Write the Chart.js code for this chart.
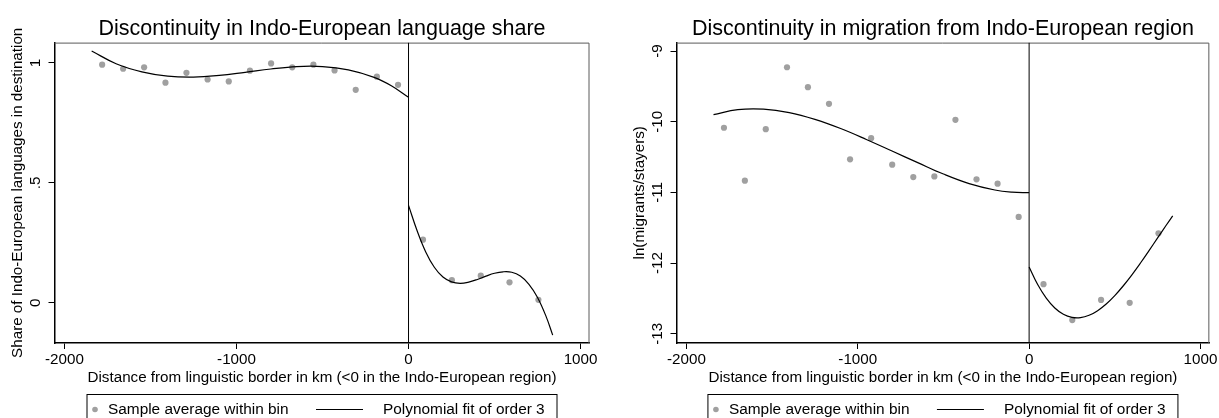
<!DOCTYPE html>
<html>
<head>
<meta charset="utf-8">
<script src="https://cdn.jsdelivr.net/npm/chart.js@4.4.0/dist/chart.umd.min.js"></script>
<style>
  html, body { margin: 0; padding: 0; background: #fff; overflow: hidden; }
  #wrap { position: relative; width: 1219px; height: 418px; }
  .panel { position: absolute; top: 0; height: 418px; }
  #leftPanel { left: 0; width: 622px; }
  #rightPanel { left: 622px; width: 597px; }
</style>
</head>
<body>
<div id="wrap">
  <div class="panel" id="leftPanel"><canvas id="shareChart"></canvas></div>
  <div class="panel" id="rightPanel"><canvas id="migChart"></canvas></div>
</div>
<script>
// bin centres (km from the border) and bin averages
const binsWest = [-1781, -1659, -1537, -1413, -1291, -1168, -1045, -922, -799, -676, -553, -430, -307, -184, -61];
const binsEast = [84, 252, 420, 587, 755];
const shareWest = [0.993, 0.976, 0.982, 0.918, 0.959, 0.931, 0.923, 0.968, 0.998, 0.982, 0.993, 0.969, 0.888, 0.943, 0.909];
const shareEast = [0.263, 0.094, 0.113, 0.085, 0.012];
const migWest = [-10.085, -10.833, -10.105, -9.229, -9.511, -9.746, -10.532, -10.232, -10.607, -10.782, -10.773, -9.972, -10.815, -10.876, -11.347];
const migEast = [-12.298, -12.806, -12.52, -12.562, -11.578];

// fitted curves
const fitGridWest = [-1842, -1700, -1550, -1400, -1250, -1100, -950, -800, -650, -500, -350, -200, -100, 0];
const fitGridEast = [0, 50, 100, 150, 200, 250, 300, 350, 400, 450, 500, 550, 600, 650, 700, 750, 800, 838];
const shareFitWest = [1.05, 0.997, 0.963, 0.945, 0.941, 0.948, 0.961, 0.975, 0.985, 0.985, 0.971, 0.94, 0.905, 0.857];
const shareFitEast = [0.406, 0.30, 0.212, 0.148, 0.107, 0.087, 0.081, 0.086, 0.097, 0.111, 0.123, 0.129, 0.127, 0.111, 0.077, 0.022, -0.058, -0.135];
const migFitWest = [-9.899, -9.828, -9.821, -9.87, -9.966, -10.096, -10.25, -10.414, -10.578, -10.74, -10.875, -10.965, -10.995, -11.003];
const migFitEast = [-12.054, -12.303, -12.495, -12.634, -12.723, -12.767, -12.771, -12.738, -12.672, -12.578, -12.459, -12.32, -12.165, -11.998, -11.823, -11.643, -11.464, -11.331];

// axes
const xTicks = [-2000, -1000, 0, 1000];
const xRange = [-2058, 1052];
const shareTicks = [0, 0.5, 1];
const shareTickLabels = ['0', '.5', '1'];
const shareRange = [-0.168, 1.085];
const migTicks = [-13, -12, -11, -10, -9];
const migTickLabels = ['-13', '-12', '-11', '-10', '-9'];
const migRange = [-13.13, -8.88];
const borderX = [0, 0];

const legendLabels = ['Sample average within bin', 'Polynomial fit of order 3'];
const xTitle = 'Distance from linguistic border in km (<0 in the Indo-European region)';

const FONT = "'Liberation Sans', Arial, sans-serif";
const dotGray = '#a0a0a0';
Chart.defaults.font.family = FONT;
Chart.defaults.color = '#000';

function pairs(xs, ys) {
    return xs.map((x, i) => ({ x: x, y: ys[i] }));
}

// top and right edges of the plot region (thin grey)
const frameEdges = {
    id: 'frameEdges',
    beforeDatasetsDraw(chart) {
        const { ctx, chartArea: a } = chart;
        ctx.save();
        ctx.strokeStyle = '#5a5a5a';
        ctx.lineWidth = 1;
        ctx.beginPath();
        ctx.moveTo(a.left, a.top + 0.5);
        ctx.lineTo(a.right - 0.5, a.top + 0.5);
        ctx.lineTo(a.right - 0.5, a.bottom);
        ctx.stroke();
        ctx.restore();
    }
};

// Stata style boxed legend under the axis title
const boxLegend = {
    id: 'boxLegend',
    afterDraw(chart) {
        const { ctx, chartArea: a } = chart;
        const mid = (a.left + a.right) / 2;
        const left = mid - 235, top = 394.5, cy = 409.5;
        const dots = chart.data.datasets.find(d => d.id === 'dots');
        const fit = chart.data.datasets.find(d => d.id === 'fitWest');
        ctx.save();
        ctx.strokeStyle = '#000';
        ctx.lineWidth = 1;
        ctx.strokeRect(left, top, 470, 30);
        ctx.fillStyle = dots.backgroundColor;
        ctx.beginPath();
        ctx.arc(left + 8, cy, 2.8, 0, Math.PI * 2);
        ctx.fill();
        ctx.fillStyle = '#000';
        ctx.font = '15.4px ' + FONT;
        ctx.textAlign = 'left';
        ctx.textBaseline = 'middle';
        ctx.fillText(dots.label, left + 21, cy);
        ctx.beginPath();
        ctx.lineWidth = fit.borderWidth;
        ctx.moveTo(left + 229, cy);
        ctx.lineTo(left + 276, cy);
        ctx.stroke();
        ctx.fillText(fit.label, left + 296, cy);
        ctx.restore();
    }
};

function makeChart(canvasId, o) {
    const lineStyle = { showLine: true, borderColor: '#000', borderWidth: 1.2, pointRadius: 0, tension: 0.4, order: 0 };
    return new Chart(document.getElementById(canvasId), {
        type: 'scatter',
        data: {
            datasets: [
                Object.assign({ id: 'fitWest', label: legendLabels[1], data: pairs(fitGridWest, o.fitWest) }, lineStyle),
                Object.assign({ id: 'fitEast', label: legendLabels[1], data: pairs(fitGridEast, o.fitEast) }, lineStyle),
                { id: 'border', label: 'border', data: pairs(borderX, o.range), showLine: true,
                  borderColor: '#000', borderWidth: 1, pointRadius: 0, order: 0 },
                { id: 'dots', label: legendLabels[0],
                  data: pairs(binsWest, o.west).concat(pairs(binsEast, o.east)),
                  pointRadius: 3.1, backgroundColor: dotGray, borderWidth: 0, order: 1 }
            ]
        },
        options: {
            responsive: true,
            maintainAspectRatio: false,
            animation: false,
            events: [],
            layout: { padding: { left: 0, right: o.padRight, top: 0, bottom: 30 } },
            plugins: {
                legend: { display: false },
                tooltip: { enabled: false },
                title: {
                    display: true, text: o.title, fullSize: false, color: '#000',
                    font: { size: 21.5, weight: 'normal', family: FONT },
                    padding: { top: 16, bottom: 0.8 }
                }
            },
            scales: {
                x: {
                    type: 'linear', min: xRange[0], max: xRange[1],
                    afterBuildTicks: s => { s.ticks = xTicks.map(v => ({ value: v })); },
                    afterFit: s => { s.height = 45; },
                    grid: { drawOnChartArea: false, drawTicks: true, tickLength: 6, color: '#000', lineWidth: 1 },
                    border: { display: true, color: '#000', width: 1.5 },
                    ticks: { color: '#000', font: { size: 15.2 }, padding: 1.5, maxRotation: 0, autoSkip: false,
                             callback: v => String(v) },
                    title: { display: true, text: xTitle, color: '#000', font: { size: 15.2 }, padding: { top: 0, bottom: 1.5 } }
                },
                y: {
                    type: 'linear', min: o.range[0], max: o.range[1],
                    afterBuildTicks: s => { s.ticks = o.ticks.map(v => ({ value: v })); },
                    afterFit: s => { s.width = 54.5; },
                    grid: { drawOnChartArea: false, drawTicks: true, tickLength: 6, color: '#000', lineWidth: 1 },
                    border: { display: true, color: '#000', width: 1.5 },
                    ticks: {
                        color: '#000', font: { size: 15.2 }, padding: o.tickPad,
                        minRotation: 90, maxRotation: 90, crossAlign: 'center', autoSkip: false,
                        callback: (v, i) => o.labels[i]
                    },
                    title: { display: true, text: o.yTitle, color: '#000', font: { size: 15.2 }, padding: { top: 8.5, bottom: 0 } }
                }
            }
        },
        plugins: [frameEdges, boxLegend]
    });
}

makeChart('shareChart', {
    title: 'Discontinuity in Indo-European language share',
    yTitle: 'Share of Indo-European languages in destination',
    west: shareWest, east: shareEast,
    fitWest: shareFitWest, fitEast: shareFitEast,
    range: shareRange, ticks: shareTicks, labels: shareTickLabels,
    tickPad: 6.7, padRight: 32.5
});

makeChart('migChart', {
    title: 'Discontinuity in migration from Indo-European region',
    yTitle: 'ln(migrants/stayers)',
    west: migWest, east: migEast,
    fitWest: migFitWest, fitEast: migFitEast,
    range: migRange, ticks: migTicks, labels: migTickLabels,
    tickPad: 2.2, padRight: 7.7
});
</script>
</body>
</html>
